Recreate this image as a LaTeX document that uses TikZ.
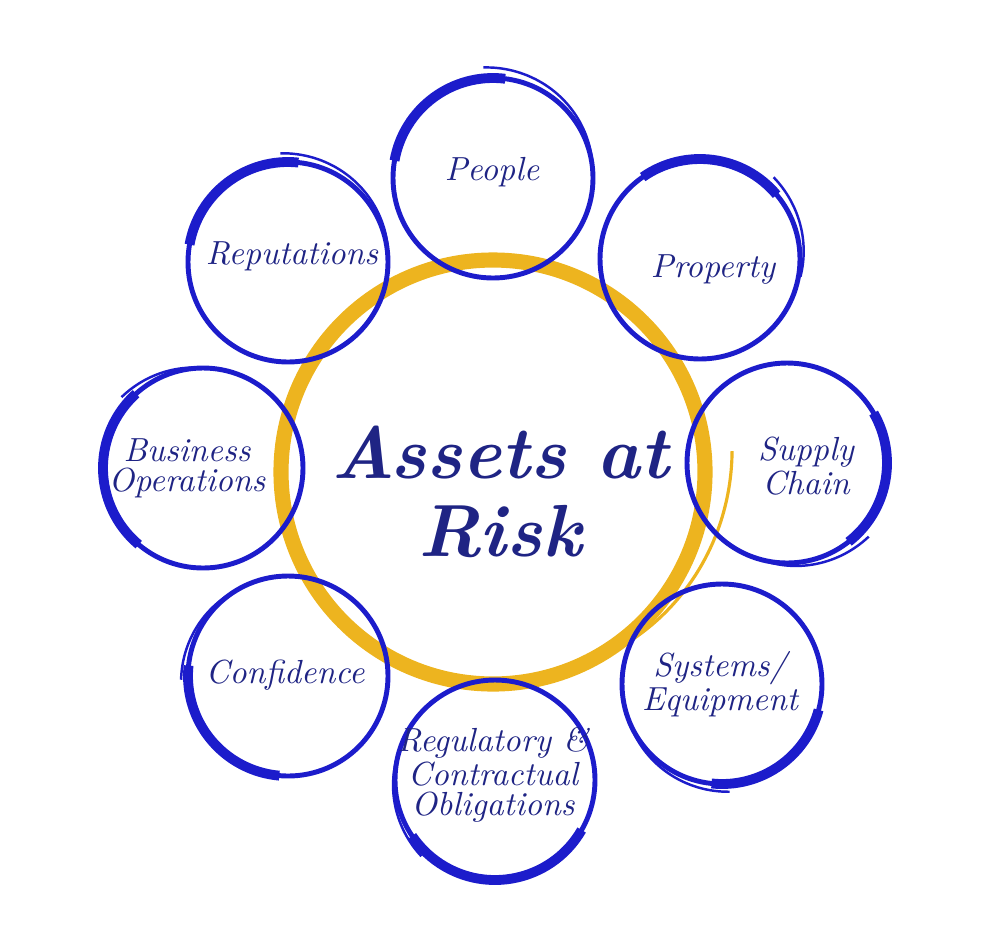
\documentclass[tikz,border=0pt]{standalone}
\usepackage{xcolor}
\usepackage{tikz}
\definecolor{ringblue}{HTML}{1C1CCB}
\definecolor{inkblue}{HTML}{1F2484}
\definecolor{riskgold}{HTML}{EDB41F}

\begin{document}
\begin{tikzpicture}[x=0.01cm, y=-0.01cm,
  every node/.style={font=\fontsize{9.5}{8.5}\selectfont\itshape, text=inkblue, align=center, inner sep=1pt},
  ring/.style={ringblue, line width=1.4pt},
  brush/.style={ringblue, line width=2.8pt},
  tail/.style={ringblue, line width=0.7pt}]
  \useasboundingbox (0,0) rectangle (1000,948);
  % central ring with its loose end
  \draw[riskgold, line width=4.3pt] (493,472) circle[radius=212];
  \draw[riskgold, line width=0.9pt] plot[smooth, domain=-5:50, samples=25]
    ({493+(240-22*(\x+5)/55)*cos(\x)}, {472+(240-22*(\x+5)/55)*sin(\x)});
  % hand drawn rings: centre / brush from-to / tail from-to / tail radii
  \foreach \cx/\cy/\ta/\tb/\sa/\sb/\ra/\rb in {
      493/178/-170/-83/-95/-5/111/100,
      700/259/-125/-40/-48/10/110/102,
      787/463/-30/52/42/100/110/101,
      722/684/15/96/86/150/108/101,
      495/780/30/146/134/200/106/100,
      288/676/95/186/178/240/107/100,
      203/468/130/228/221/270/108/100,
      288/262/-170/-84/-94/-10/109/101}
  {
    \draw[ring] (\cx,\cy) circle[radius=100];
    \draw[brush, shift={(\cx,\cy)}] (\ta:100) arc[start angle=\ta, end angle=\tb, radius=100];
    \draw[tail, shift={(\cx,\cy)}] plot[smooth, domain=\sa:\sb, samples=20]
      ({(\ra+(\rb-\ra)*(\x-(\sa))/(\sb-(\sa)))*cos(\x)}, {(\ra+(\rb-\ra)*(\x-(\sa))/(\sb-(\sa)))*sin(\x)});
  }
  \node (people) at (492,172) {People};
  \node (property) at (713,270) {Property};
  \node (supply) at (806,466) {Supply\\Chain};
  \node (systems) at (720,684) {Systems/\\Equipment};
  \node (regulatory) at (493,775) {Regulatory \&\\Contractual\\Obligations};
  \node (confidence) at (285,675) {Confidence};
  \node (business) at (187,468) {Business\\Operations};
  \node (reputations) at (292,256) {Reputations};
  \node[font=\fontsize{21}{22}\selectfont\bfseries\itshape] (assets) at (500,492) {Assets at\\Risk};
\end{tikzpicture}
\end{document}
